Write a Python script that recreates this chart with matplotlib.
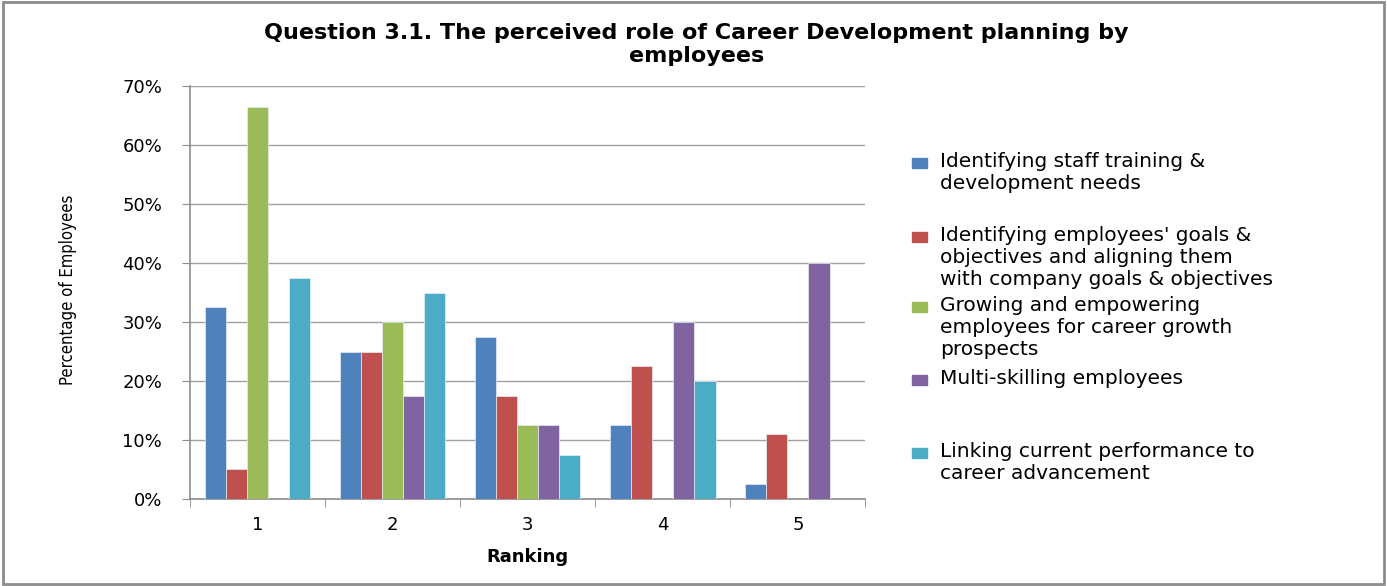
import numpy as np
import matplotlib
matplotlib.use("Agg")
import matplotlib.pyplot as plt
from matplotlib.patches import Rectangle
from matplotlib.ticker import FuncFormatter, FixedLocator

rankings = ["1", "2", "3", "4", "5"]
series = [
    "Identifying staff training &\ndevelopment needs",
    "Identifying employees' goals &\nobjectives and aligning them\nwith company goals & objectives",
    "Growing and empowering\nemployees for career growth\nprospects",
    "Multi-skilling employees",
    "Linking current performance to\ncareer advancement",
]
staff_training = [32.5, 25.0, 27.5, 12.5, 2.5]
goals_aligning = [5.0, 25.0, 17.5, 22.5, 11.0]
growing = [66.5, 30.0, 12.5, 0.0, 0.0]
multi_skilling = [0.0, 17.5, 12.5, 30.0, 40.0]
linking = [37.5, 35.0, 7.5, 20.0, 0.0]
values = [staff_training, goals_aligning, growing, multi_skilling, linking]
colors = ["#4F81BD", "#C0504D", "#9BBB59", "#8064A2", "#4BACC6"]

fig = plt.figure(figsize=(13.87, 5.86), dpi=100)
ax = fig.add_axes([0.137, 0.1485, 0.487, 0.7045])

x = np.arange(len(rankings))
w = 0.156
for i, (vals, col) in enumerate(zip(values, colors)):
    ax.bar(x + (i - 2) * w, vals, w, color=col, edgecolor="#e8eef6", linewidth=0.5, zorder=3)

ax.set_xlim(-0.5, 4.5)
ax.set_ylim(0, 70)
ax.set_yticks(np.arange(0, 71, 10))
ax.yaxis.set_major_formatter(FuncFormatter(lambda v, p: f"{v:.0f}%"))
ax.grid(axis="y", color="#a0a0a0", lw=1.0, zorder=0)
ax.set_xticks(x)
ax.set_xticklabels(rankings)
ax.xaxis.set_minor_locator(FixedLocator(np.arange(-0.5, 4.6, 1)))
ax.tick_params(axis="x", which="major", length=0, labelsize=13, pad=12)
ax.tick_params(axis="x", which="minor", length=6, color="#8c8c8c", direction="out")
ax.tick_params(axis="y", length=6, color="#8c8c8c", labelsize=13, pad=14)
for s in ["top", "right"]:
    ax.spines[s].set_visible(False)
for s in ["left", "bottom"]:
    ax.spines[s].set_color("#8c8c8c")
    ax.spines[s].set_linewidth(1.2)

ax.set_xlabel("Ranking", fontsize=13, fontweight="bold", labelpad=10)
fig.text(0.049, 0.505, "Percentage of Employees", rotation=90, ha="center", va="center",
         fontsize=12, stretch="condensed")
fig.text(0.502, 0.924, "Question 3.1. The perceived role of Career Development planning by\nemployees",
         ha="center", va="center", fontsize=16, fontweight="bold", linespacing=1.2)

# legend drawn by hand so each entry sits in an equal slot
slot_top = [163, 237, 307, 380, 453]
for lab, col, yp in zip(series, colors, slot_top):
    yf = 1 - yp / 586
    fig.patches.append(Rectangle((912 / 1387, yf - 5 / 586), 15 / 1387, 10 / 586,
                                 transform=fig.transFigure, color=col))
    fig.text(940 / 1387, yf + 11 / 586, lab, ha="left", va="top", fontsize=14.5, linespacing=1.2)

fig.patches.append(Rectangle((0.002, 0.003), 0.996, 0.994, transform=fig.transFigure,
                             fill=False, ec="#8c8c8c", lw=2))
fig.savefig("out.png", dpi=100)
